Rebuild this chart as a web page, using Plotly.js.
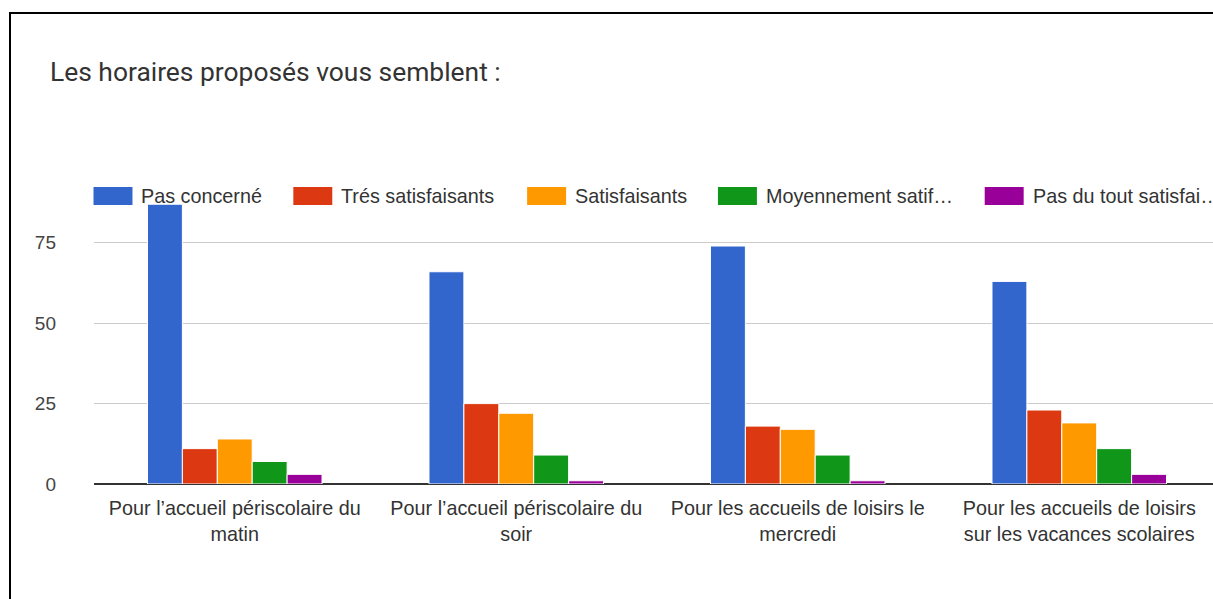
<!DOCTYPE html>
<html>
<head>
<meta charset="utf-8">
<script src="https://cdn.plot.ly/plotly-3.0.1.min.js"></script>
<style>
html,body{margin:0;padding:0;overflow:hidden;background:#fff;width:1213px;height:599px;}
#chart{position:absolute;left:0;top:0;}
#frame{position:absolute;left:9px;top:12px;width:1400px;height:800px;border-left:2px solid #000;border-top:2px solid #000;pointer-events:none;}
</style>
</head>
<body>
<div id="chart"></div>
<div id="frame"></div>
<script>
const categories = [
  "Pour l’accueil périscolaire du<br>matin",
  "Pour l’accueil périscolaire du<br>soir",
  "Pour les accueils de loisirs le<br>mercredi",
  "Pour les accueils de loisirs<br>sur les vacances scolaires"
];
const seriesNames = ["Pas concerné", "Trés satisfaisants", "Satisfaisants", "Moyennement satif…", "Pas du tout satisfai…"];
const pasConcerne = [87, 66, 74, 63];
const tresSatisfaisants = [11, 25, 18, 23];
const satisfaisants = [14, 22, 17, 19];
const moyennement = [7, 9, 9, 11];
const pasDuTout = [3, 1, 1, 3];
const yTicks = [0, 25, 50, 75];

const colors = ["#3366cc", "#dc3912", "#ff9900", "#109618", "#990099"];
const seriesValues = [pasConcerne, tresSatisfaisants, satisfaisants, moyennement, pasDuTout];
const catIdx = categories.map((c, i) => i);

const traces = seriesValues.map((vals, i) => ({
  type: "bar",
  x: catIdx,
  y: vals,
  name: seriesNames[i],
  marker: {color: colors[i], line: {color: "#ffffff", width: 1}},
  hoverinfo: "x+y+name",
  showlegend: false
}));

// Legend drawn as shapes + annotations (Google Charts style)
const legendX = [93, 293, 527, 718, 985];
const W = 1240, H = 599;
const mL = 93.5, mR = W - 1220.5, mT = 201, mB = H - 484;
const pw = W - mL - mR, ph = H - mT - mB;
const px2x = p => (p - mL) / pw;
const py2y = p => (H - mB - p) / ph;

const shapes = [], annotations = [];
seriesNames.forEach((n, i) => {
  shapes.push({type: "rect", xref: "paper", yref: "paper",
    x0: px2x(legendX[i]), x1: px2x(legendX[i] + 39),
    y0: py2y(205), y1: py2y(187),
    fillcolor: colors[i], line: {width: 0}});
  annotations.push({xref: "paper", yref: "paper", x: px2x(legendX[i] + 46), y: py2y(196),
    xanchor: "left", yanchor: "middle", showarrow: false, text: n,
    font: {family: "Liberation Sans, Arial, sans-serif", size: 19.8, color: "#333"}});
});

const layout = {
  width: W, height: H,
  margin: {l: mL, r: mR, t: mT, b: mB, pad: 0},
  paper_bgcolor: "#fff", plot_bgcolor: "#fff",
  title: {text: "Les horaires proposés vous semblent :", x: 50 / W, xref: "container", xanchor: "left",
    y: 1 - 72 / H, yref: "container", yanchor: "middle",
    font: {family: "Roboto, sans-serif", size: 26.4, color: "#333"}},
  barmode: "group", bargap: 0.38, bargroupgap: 0,
  showlegend: false,
  xaxis: {tickmode: "array", tickvals: catIdx, ticktext: categories, range: [-0.5, 3.5],
    showgrid: false, zeroline: false, showline: false, ticks: "", ticklabelstandoff: 10,
    tickfont: {family: "Liberation Sans, Arial, sans-serif", size: 19.8, color: "#333"}, fixedrange: true},
  yaxis: {range: [0, 88], tickmode: "array", tickvals: yTicks, ticktext: yTicks.map(String),
    showgrid: true, gridcolor: "#cccccc", gridwidth: 1, zeroline: true, zerolinecolor: "#333", zerolinewidth: 2,
    showline: false, ticks: "", ticklabelstandoff: 37,
    tickfont: {family: "Liberation Sans, Arial, sans-serif", size: 19, color: "#444"}, fixedrange: true},
  shapes: shapes, annotations: annotations
};

Plotly.newPlot("chart", traces, layout, {displayModeBar: false, staticPlot: true});
</script>
</body>
</html>
